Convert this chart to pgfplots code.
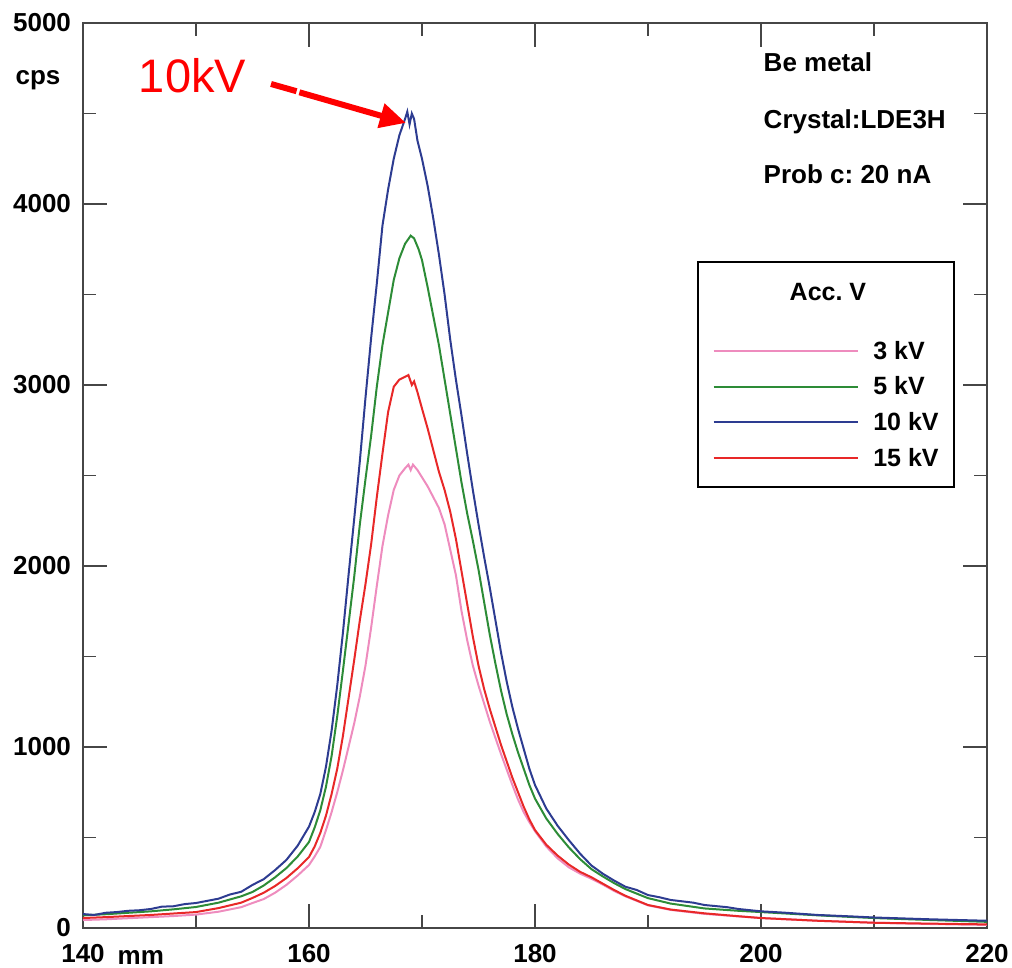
\documentclass[border=0pt]{standalone}
\usepackage{fontspec}
\setmainfont{Liberation Sans}
\usepackage{pgfplots}
\pgfplotsset{compat=1.18}
\usepackage{pgfplotstable}
\usetikzlibrary{arrows.meta}
\frenchspacing

\definecolor{kvthree}{RGB}{238,140,190}
\definecolor{kvfive}{RGB}{45,140,55}
\definecolor{kvten}{RGB}{45,60,145}
\definecolor{kvfifteen}{RGB}{232,40,40}
\definecolor{frame}{RGB}{70,70,70}

\newcommand{\lbl}{\fontsize{13}{15}\selectfont\bfseries}
\newcommand{\leg}{\fontsize{12.5}{15}\selectfont\bfseries}

% 3 kV
\pgfplotstableread{
x y
140 44
142 48
144 54
146 60
148 66
150 74
152 90
154 115
155 138
156 160
157 195
158 238
159 290
160 348
160.5 395
161 448
161.5 540
162 640
162.5 750
163 870
163.5 1000
164 1130
164.5 1280
165 1450
165.5 1660
166 1890
166.5 2110
167 2280
167.5 2420
168 2500
168.5 2540
168.8 2560
169 2530
169.2 2560
169.6 2530
170 2490
170.5 2440
171 2380
171.5 2320
172 2230
172.5 2090
173 1950
173.5 1750
174 1590
174.5 1450
175 1340
175.5 1240
176 1140
176.5 1050
177 960
177.5 875
178 790
178.5 710
179 640
179.5 585
180 535
181 450
182 385
183 335
184 300
185 272
186 240
187 205
188 175
190 125
192 100
195 78
198 64
200 55
205 40
210 29
215 22
220 17
}\tblthree

% 5 kV
\pgfplotstableread{
x y
140 70
142 76
144 84
146 92
148 103
150 116
152 140
154 175
155 199
156 235
157 280
158 331
159 395
160 475
160.5 555
161 650
161.5 780
162 950
162.5 1170
163 1420
163.5 1680
164 1940
164.5 2230
165 2480
165.5 2720
166 2990
166.5 3220
167 3400
167.5 3580
168 3700
168.5 3780
169 3825
169.3 3810
169.7 3750
170 3690
170.5 3540
171 3380
171.5 3220
172 3030
172.5 2840
173 2650
173.5 2460
174 2290
174.5 2140
175 1980
175.5 1800
176 1620
176.5 1460
177 1310
177.5 1180
178 1070
178.5 970
179 880
179.5 790
180 715
181 605
182 520
183 445
184 380
185 325
186 285
187 248
188 215
190 165
192 135
195 108
198 95
200 88
205 70
210 55
215 44
220 34
}\tblfive

% 10 kV
\pgfplotstableread{
x y
140 77
141 72
142 84
143 88
144 95
145 98
146 105
147 118
148 120
149 132
150 138
151 150
152 162
153 185
154 200
155 238
156 270
157 320
158 376
159 455
160 560
160.5 640
161 740
161.5 890
162 1090
162.5 1340
163 1630
163.5 1950
164 2260
164.5 2580
165 2930
165.5 3260
166 3560
166.5 3880
167 4080
167.5 4250
168 4380
168.5 4470
168.7 4510
168.9 4440
169.1 4500
169.3 4470
169.6 4350
170 4250
170.5 4100
171 3920
171.5 3720
172 3500
172.5 3250
173 3030
173.5 2830
174 2620
174.5 2420
175 2230
175.5 2050
176 1880
176.5 1700
177 1520
177.5 1360
178 1220
178.5 1100
179 990
179.5 880
180 790
181 660
182 565
183 485
184 410
185 345
186 300
187 262
188 228
189 210
190 182
191 170
192 155
194 140
195 127
197 115
198 105
200 92
202 85
205 72
208 64
210 58
215 48
220 40
}\tblten

% 15 kV
\pgfplotstableread{
x y
140 55
142 60
144 66
146 72
148 80
150 88
152 110
154 140
155 166
156 195
157 232
158 276
159 330
160 392
160.5 450
161 525
161.5 620
162 740
162.5 880
163 1060
163.5 1270
164 1480
164.5 1700
165 1900
165.5 2120
166 2380
166.5 2620
167 2850
167.5 2990
168 3030
168.5 3045
168.8 3055
169.1 3000
169.3 3020
169.6 2960
170 2870
170.5 2760
171 2640
171.5 2520
172 2420
172.5 2300
173 2150
173.5 1970
174 1790
174.5 1610
175 1450
175.5 1320
176 1210
176.5 1110
177 1010
177.5 920
178 830
178.5 750
179 670
179.5 600
180 541
181 460
182 400
183 350
184 310
185 280
186 245
187 210
188 178
190 127
192 102
195 81
198 65
200 55
205 40
210 29
215 24
220 20
}\tblfifteen

\begin{document}
\begin{tikzpicture}
\begin{axis}[
    scale only axis,
    width=452pt, height=452.5pt,
    xmin=140, xmax=220, ymin=0, ymax=5000,
    xtick={140,160,...,220},
    ytick={0,1000,...,5000},
    minor x tick num=1, minor y tick num=1,
    tick align=inside,
    major tick length=12pt, minor tick length=6.5pt,
    axis line style={frame, line width=0.75pt},
    tick style={frame, line width=0.75pt},
    tick label style={font=\lbl},
    /pgf/number format/assume math mode=true,
    /pgf/number format/1000 sep={},
    scaled y ticks=false,
    xticklabel style={yshift=-4.8pt},
    yticklabel style={xshift=-2.5pt},
    clip=false,
    legend image code/.code={\draw[#1, line width=1pt] (0pt,4.2pt) -- (72pt,4.2pt);},
    legend style={
        at={(0.6789,0.7373)}, anchor=north west,
        draw=black, line width=1pt, fill=white,
        font=\leg,
        inner xsep=7.5pt, inner ysep=0pt,
        row sep=0pt, column sep=7.3pt,
        cells={anchor=base west},
        nodes={inner sep=0pt, text height=13.1pt, text depth=4.7pt},
    },
]
\addlegendimage{empty legend}
\addlegendentry[text height=19.3pt, text depth=16.4pt]{\makebox[0pt][l]{\hspace*{-42.3pt}Acc. V}}

\addplot[kvthree, line width=1pt] table[x=x, y=y] {\tblthree};
\addlegendentry{3 kV}
\addplot[kvfive, line width=1pt] table[x=x, y=y] {\tblfive};
\addlegendentry{5 kV}
\addplot[kvten, line width=1pt] table[x=x, y=y] {\tblten};
\addlegendentry{10 kV}
\addplot[kvfifteen, line width=1pt] table[x=x, y=y] {\tblfifteen};
\addlegendentry[text depth=10.5pt]{15 kV}

\node[font=\lbl, anchor=base, inner sep=0pt] at (rel axis cs:-0.0498,0.9315) {cps};
\node[font=\lbl, anchor=base, inner sep=0pt] at (rel axis cs:0.064,-0.0398) {mm};

\node[font=\lbl, anchor=base west, inner sep=0pt] at (rel axis cs:0.7526,0.9462) {Be metal};
\node[font=\lbl, anchor=base west, inner sep=0pt] at (rel axis cs:0.7526,0.8836) {Crystal:LDE3H};
\node[font=\lbl, anchor=base west, inner sep=0pt] at (rel axis cs:0.7526,0.8221) {Prob c: 20 nA};

\node[red, font=\fontsize{23.5}{28}\selectfont, anchor=base, inner sep=0pt] at (rel axis cs:0.1211,0.9227) {10kV};
\draw[red, line width=3pt] (axis cs:156.64,4663) -- (axis cs:158.9,4623);
\draw[red, line width=3pt, -{Triangle[length=13pt,width=12pt]}] (axis cs:159.15,4617) -- (axis cs:168.58,4448);
\end{axis}
\pgfresetboundingbox
\useasboundingbox (-41.5pt,-20pt) rectangle (464.5pt,464pt);
\end{tikzpicture}
\end{document}
